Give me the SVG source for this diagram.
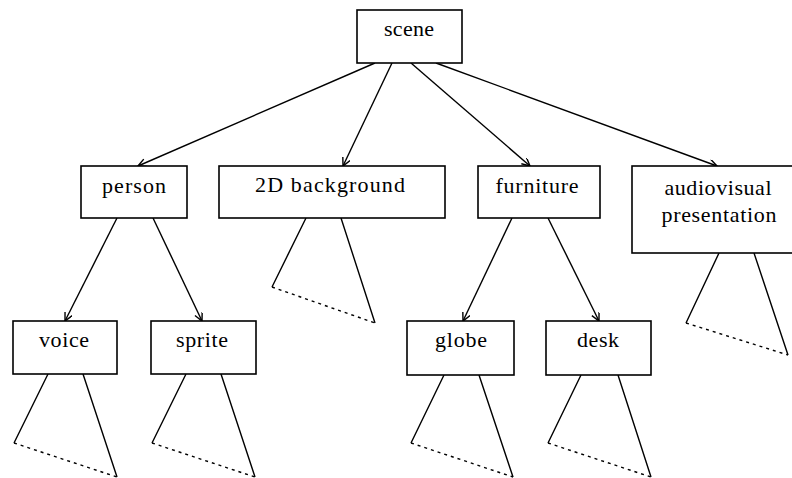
<svg xmlns="http://www.w3.org/2000/svg" width="792" height="478" viewBox="0 0 792 478">
<style>
.box{fill:#fff;stroke:#000;stroke-width:1.6}
.lbl{font-family:"Liberation Serif","Times New Roman",serif;font-size:22px;fill:#000;text-anchor:middle}
.edge{stroke:#000;stroke-width:1.4;fill:none}
.dot{stroke:#000;stroke-width:1.4;fill:none;stroke-dasharray:3 4}
</style>
<defs>
<marker id="arr" markerWidth="10" markerHeight="10" refX="9" refY="4" orient="auto" markerUnits="userSpaceOnUse">
<path d="M1,0 L9,4 L1,8" fill="none" stroke="#000" stroke-width="1.4"/>
</marker>
</defs>
<rect width="792" height="478" fill="#fff"/>
<g id="connectors">
<line class="edge" x1="375" y1="63" x2="138" y2="166" marker-end="url(#arr)"/>
<line class="edge" x1="392" y1="63" x2="343" y2="166" marker-end="url(#arr)"/>
<line class="edge" x1="411" y1="63" x2="530" y2="166" marker-end="url(#arr)"/>
<line class="edge" x1="436" y1="63" x2="717" y2="166" marker-end="url(#arr)"/>
<line class="edge" x1="117" y1="218" x2="65" y2="321" marker-end="url(#arr)"/>
<line class="edge" x1="153" y1="218" x2="202" y2="321" marker-end="url(#arr)"/>
<line class="edge" x1="512" y1="218" x2="463" y2="321" marker-end="url(#arr)"/>
<line class="edge" x1="548" y1="218" x2="599" y2="321" marker-end="url(#arr)"/>
<path class="edge" d="M306,218 L272,287 M341,218 L375,323"/>
<path class="dot" d="M272,287 L375,323"/>
<path class="edge" d="M719,253 L686,323 M754,253 L788,355"/>
<path class="dot" d="M686,323 L788,355"/>
<path class="edge" d="M48,374 L14,443 M83,374 L117,477"/>
<path class="dot" d="M14,443 L117,477"/>
<path class="edge" d="M186,374 L152,443 M221,374 L255,477"/>
<path class="dot" d="M152,443 L255,477"/>
<path class="edge" d="M444,375 L411,443 M479,375 L513,477"/>
<path class="dot" d="M411,443 L513,477"/>
<path class="edge" d="M581,375 L548,443 M618,375 L651,477"/>
<path class="dot" d="M548,443 L651,477"/>
</g>
<g id="scene"><rect class="box" x="357" y="10" width="105" height="53"/><text class="lbl" x="409" y="36" textLength="50" lengthAdjust="spacing">scene</text></g>
<g id="person"><rect class="box" x="81" y="166" width="106" height="52"/><text class="lbl" x="134" y="193" textLength="64" lengthAdjust="spacing">person</text></g>
<g id="background2d"><rect class="box" x="219" y="166" width="226" height="52"/><text class="lbl" x="330" y="192" textLength="150" lengthAdjust="spacing">2D background</text></g>
<g id="furniture"><rect class="box" x="478" y="166" width="122" height="52"/><text class="lbl" x="537" y="193" textLength="83" lengthAdjust="spacing">furniture</text></g>
<g id="audiovisual"><rect class="box" x="632" y="166" width="175" height="87"/><text class="lbl" x="718" y="195" textLength="107" lengthAdjust="spacing">audiovisual</text><text class="lbl" x="719" y="222" textLength="115" lengthAdjust="spacing">presentation</text></g>
<g id="voice"><rect class="box" x="13" y="321" width="104" height="53"/><text class="lbl" x="64" y="347" textLength="50" lengthAdjust="spacing">voice</text></g>
<g id="sprite"><rect class="box" x="151" y="321" width="105" height="53"/><text class="lbl" x="202" y="347" textLength="52" lengthAdjust="spacing">sprite</text></g>
<g id="globe"><rect class="box" x="407" y="321" width="107" height="54"/><text class="lbl" x="461" y="347" textLength="52" lengthAdjust="spacing">globe</text></g>
<g id="desk"><rect class="box" x="546" y="321" width="105" height="54"/><text class="lbl" x="598" y="347" textLength="42" lengthAdjust="spacing">desk</text></g>
</svg>
